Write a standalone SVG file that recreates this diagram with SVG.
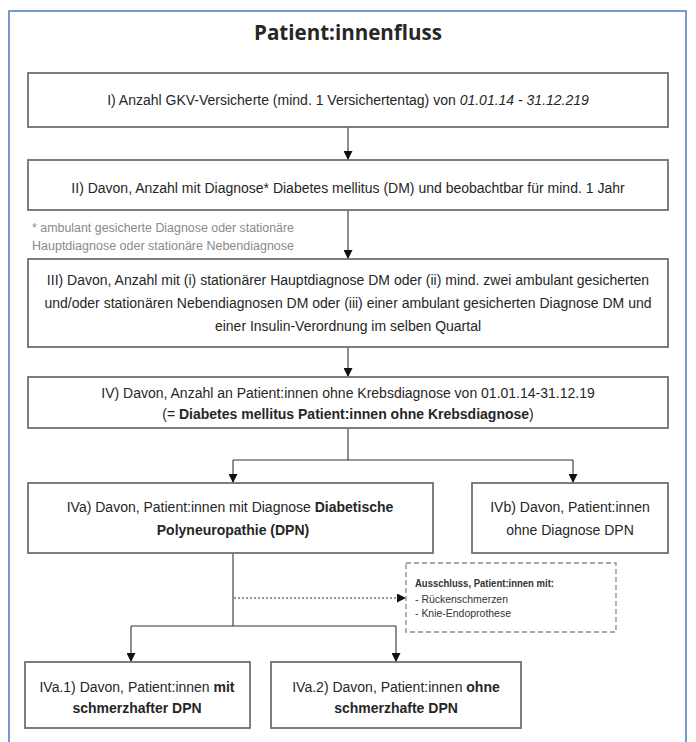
<svg xmlns="http://www.w3.org/2000/svg" width="696" height="742" viewBox="0 0 696 742">
<defs>
<style>
.box{fill:#fff;stroke:#707070;stroke-width:1.8}
.t{font-family:"Liberation Sans",Arial,sans-serif;font-size:14px;fill:#262626;text-anchor:middle}
.b{font-weight:bold}
.fn{font-family:"Liberation Sans",Arial,sans-serif;font-size:12px;fill:#8a8a8a}
.ex{font-family:"Liberation Sans",Arial,sans-serif;font-size:11px;fill:#333}
.ln{fill:none;stroke:#333;stroke-width:1.1}
</style>
<marker id="ah" viewBox="0 0 10 10" refX="10" refY="5" markerWidth="9" markerHeight="9" markerUnits="userSpaceOnUse" orient="auto"><path d="M0,0 L10,5 L0,10 z" fill="#111"/></marker>
</defs>
<rect width="696" height="742" fill="#fff"/>
<rect x="9" y="11" width="677" height="740" fill="none" stroke="#4a78c0" stroke-width="1.5"/>
<text x="348" y="40" font-family="'Open Sans','Liberation Sans',sans-serif" font-size="22" font-weight="bold" fill="#262626" text-anchor="middle" textLength="188" lengthAdjust="spacingAndGlyphs">Patient:innenfluss</text>

<g id="connectors">
<path class="ln" d="M348,127 V160" marker-end="url(#ah)"/>
<path class="ln" d="M348,210 V259" marker-end="url(#ah)"/>
<path class="ln" d="M348,347 V377" marker-end="url(#ah)"/>
<path class="ln" d="M348,428 V460 M233,460 H573"/>
<path class="ln" d="M233,460 V483" marker-end="url(#ah)"/>
<path class="ln" d="M573,460 V483" marker-end="url(#ah)"/>
<path class="ln" d="M233,553 V626 M131,626 H396"/>
<path class="ln" d="M131,626 V662" marker-end="url(#ah)"/>
<path class="ln" d="M396,626 V662" marker-end="url(#ah)"/>
<path class="ln" d="M234,598 H406" stroke-dasharray="2,2" marker-end="url(#ah)"/>
</g>

<g id="n1">
<rect class="box" x="28" y="73" width="640" height="54"/>
<text class="t" x="348" y="105">I) Anzahl GKV-Versicherte (mind. 1 Versichertentag) von <tspan font-style="italic">01.01.14 - 31.12.219</tspan></text>
</g>
<g id="n2">
<rect class="box" x="28" y="160" width="640" height="50"/>
<text class="t" x="348" y="193">II) Davon, Anzahl mit Diagnose* Diabetes mellitus (DM) und beobachtbar für mind. 1 Jahr</text>
</g>
<g id="footnote">
<text class="fn" x="32" y="232" textLength="262" lengthAdjust="spacingAndGlyphs">* ambulant gesicherte Diagnose oder stationäre</text>
<text class="fn" x="32" y="250" textLength="262" lengthAdjust="spacingAndGlyphs">Hauptdiagnose oder stationäre Nebendiagnose</text>
</g>
<g id="n3">
<rect class="box" x="28" y="259" width="640" height="88"/>
<text class="t" x="348" y="285">III) Davon, Anzahl mit (i) stationärer Hauptdiagnose DM oder (ii) mind. zwei ambulant gesicherten</text>
<text class="t" x="348" y="308">und/oder stationären Nebendiagnosen DM oder (iii) einer ambulant gesicherten Diagnose DM und</text>
<text class="t" x="348" y="331">einer Insulin-Verordnung im selben Quartal</text>
</g>
<g id="n4">
<rect class="box" x="28" y="377" width="640" height="51"/>
<text class="t" x="348" y="398">IV) Davon, Anzahl an Patient:innen ohne Krebsdiagnose von 01.01.14-31.12.19</text>
<text class="t" x="348" y="419">(= <tspan class="b">Diabetes mellitus Patient:innen ohne Krebsdiagnose</tspan>)</text>
</g>
<g id="n4a">
<rect class="box" x="28" y="483" width="405" height="70"/>
<text class="t" x="230" y="512">IVa) Davon, Patient:innen mit Diagnose <tspan class="b">Diabetische</tspan></text>
<text class="t b" x="233" y="535">Polyneuropathie (DPN)</text>
</g>
<g id="n4b">
<rect class="box" x="472" y="483" width="196" height="70"/>
<text class="t" x="570" y="512">IVb) Davon, Patient:innen</text>
<text class="t" x="570" y="535">ohne Diagnose DPN</text>
</g>
<g id="exclusion">
<rect x="406" y="563" width="210" height="69" fill="#fff" stroke="#8a8a8a" stroke-width="1.3" stroke-dasharray="5,3"/>
<text class="ex b" x="415" y="587" textLength="139" lengthAdjust="spacingAndGlyphs">Ausschluss, Patient:innen mit:</text>
<text class="ex" x="415" y="603" textLength="93" lengthAdjust="spacingAndGlyphs">- Rückenschmerzen</text>
<text class="ex" x="415" y="617" textLength="96" lengthAdjust="spacingAndGlyphs">- Knie-Endoprothese</text>
</g>
<g id="n4a1">
<rect class="box" x="25" y="662" width="225" height="66"/>
<text class="t" x="137" y="692">IVa.1) Davon, Patient:innen <tspan class="b">mit</tspan></text>
<text class="t b" x="137" y="713">schmerzhafter DPN</text>
</g>
<g id="n4a2">
<rect class="box" x="271" y="662" width="250" height="66"/>
<text class="t" x="396" y="692">IVa.2) Davon, Patient:innen <tspan class="b">ohne</tspan></text>
<text class="t b" x="396" y="713">schmerzhafte DPN</text>
</g>
</svg>
